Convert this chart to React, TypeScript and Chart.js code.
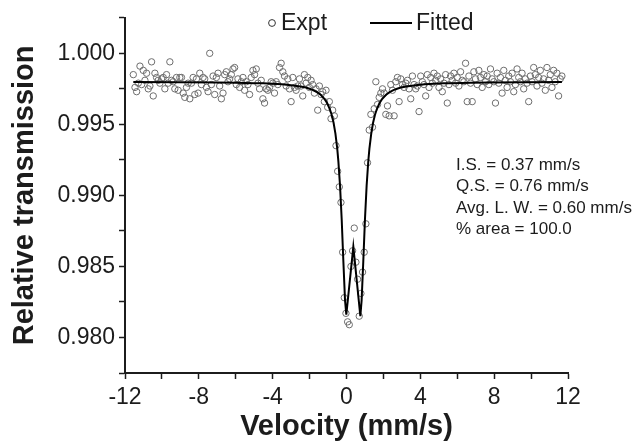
import React, { useEffect, useRef } from "react";
import { Chart, registerables } from "chart.js";

Chart.register(...registerables);

// Measured velocities (mm/s) of the spectrum channels
const VELOCITY: number[] = [
  -11.55, -11.46, -11.37, -11.28, -11.19, -11.1, -11.01, -10.92, -10.83, -10.74,
  -10.65, -10.56, -10.47, -10.38, -10.29, -10.2, -10.11, -10.02, -9.93, -9.84,
  -9.75, -9.66, -9.57, -9.48, -9.39, -9.3, -9.21, -9.12, -9.03, -8.94,
  -8.85, -8.76, -8.67, -8.58, -8.49, -8.4, -8.31, -8.22, -8.13, -8.04,
  -7.95, -7.86, -7.77, -7.68, -7.59, -7.5, -7.41, -7.32, -7.23, -7.14,
  -7.05, -6.96, -6.87, -6.78, -6.69, -6.6, -6.51, -6.42, -6.33, -6.24,
  -6.15, -6.06, -5.97, -5.88, -5.79, -5.7, -5.61, -5.52, -5.43, -5.34,
  -5.25, -5.16, -5.07, -4.98, -4.89, -4.8, -4.71, -4.62, -4.53, -4.44,
  -4.35, -4.26, -4.17, -4.08, -3.99, -3.9, -3.81, -3.72, -3.63, -3.54,
  -3.45, -3.36, -3.27, -3.18, -3.09, -3.0, -2.91, -2.82, -2.73, -2.64,
  -2.55, -2.46, -2.37, -2.28, -2.19, -2.1, -2.01, -1.92, -1.83, -1.74,
  -1.65, -1.56, -1.47, -1.38, -1.29, -1.2, -1.11, -1.02, -0.93, -0.84,
  -0.75, -0.66, -0.57, -0.48, -0.39, -0.3, -0.21, -0.12, -0.03, 0.06,
  0.15, 0.24, 0.33, 0.42, 0.51, 0.6, 0.69, 0.78, 0.87, 0.96,
  1.05, 1.14, 1.23, 1.32, 1.41, 1.5, 1.59, 1.68, 1.77, 1.86,
  1.95, 2.04, 2.13, 2.22, 2.31, 2.4, 2.49, 2.58, 2.67, 2.76,
  2.85, 2.94, 3.03, 3.12, 3.21, 3.3, 3.39, 3.48, 3.57, 3.66,
  3.75, 3.84, 3.93, 4.02, 4.11, 4.2, 4.29, 4.38, 4.47, 4.56,
  4.65, 4.74, 4.83, 4.92, 5.01, 5.1, 5.19, 5.28, 5.37, 5.46,
  5.55, 5.64, 5.73, 5.82, 5.91, 6.0, 6.09, 6.18, 6.27, 6.36,
  6.45, 6.54, 6.63, 6.72, 6.81, 6.9, 6.99, 7.08, 7.17, 7.26,
  7.35, 7.44, 7.53, 7.62, 7.71, 7.8, 7.89, 7.98, 8.07, 8.16,
  8.25, 8.34, 8.43, 8.52, 8.61, 8.7, 8.79, 8.88, 8.97, 9.06,
  9.15, 9.24, 9.33, 9.42, 9.51, 9.6, 9.69, 9.78, 9.87, 9.96,
  10.05, 10.14, 10.23, 10.32, 10.41, 10.5, 10.59, 10.68, 10.77, 10.86,
  10.95, 11.04, 11.13, 11.22, 11.31, 11.4, 11.49, 11.58, 11.67,
];

// Experimental relative transmission for each channel
const TRANSMISSION: number[] = [
  0.9985, 0.9976, 0.9973, 0.9979, 0.9991, 0.9978, 0.9988, 0.9981, 0.9986, 0.9975,
  0.9977, 0.9994, 0.997, 0.9986, 0.9983, 0.9981, 0.9979, 0.9982, 0.9983, 0.9975,
  0.9985, 0.9979, 0.9994, 0.9981, 0.998, 0.9975, 0.9983, 0.9974, 0.9983, 0.9983,
  0.9972, 0.9969, 0.9976, 0.9979, 0.9968, 0.9979, 0.9983, 0.9971, 0.9982, 0.9972,
  0.9986, 0.9978, 0.9983, 0.9982, 0.9976, 0.9973, 1.0, 0.9978, 0.9984, 0.9971,
  0.9983, 0.9986, 0.9977, 0.9968, 0.9972, 0.9985, 0.9987, 0.998, 0.9982, 0.9985,
  0.9989, 0.999, 0.9978, 0.9982, 0.9976, 0.998, 0.9983, 0.9974, 0.998, 0.9978,
  0.9971, 0.9983, 0.9988, 0.9985, 0.9989, 0.9979, 0.9975, 0.9981, 0.9968, 0.9965,
  0.9975, 0.9974, 0.9976, 0.998, 0.9979, 0.9972, 0.998, 0.9978, 0.999, 0.9993,
  0.9987, 0.9984, 0.9977, 0.9982, 0.9975, 0.9966, 0.9983, 0.9976, 0.9974, 0.9977,
  0.9982, 0.9977, 0.997, 0.9985, 0.9979, 0.9983, 0.9976, 0.9981, 0.9978, 0.9972,
  0.9975, 0.996, 0.9977, 0.9971, 0.9973, 0.9966, 0.9974, 0.9962, 0.9966, 0.9954,
  0.996, 0.9956, 0.9935, 0.9917, 0.9906, 0.9895, 0.986, 0.9828, 0.9817, 0.9811,
  0.9809, 0.985, 0.9861, 0.9877, 0.9853, 0.9841, 0.9815, 0.9831, 0.9846, 0.986,
  0.988, 0.9923, 0.9946, 0.9957, 0.9948, 0.9961, 0.998, 0.9964, 0.9969, 0.9972,
  0.9975, 0.9972, 0.9957, 0.9963, 0.9956, 0.9978, 0.9974, 0.9956, 0.998, 0.9983,
  0.9966, 0.9982, 0.9978, 0.9976, 0.9979, 0.9981, 0.9975, 0.9968, 0.9984, 0.9978,
  0.9975, 0.9977, 0.9959, 0.9984, 0.998, 0.9978, 0.997, 0.9985, 0.9976, 0.9983,
  0.9979, 0.9986, 0.9981, 0.9984, 0.9976, 0.9982, 0.9973, 0.9979, 0.9985, 0.9965,
  0.9978, 0.9984, 0.9981, 0.9986, 0.9979, 0.9983, 0.9977, 0.9987, 0.9981, 0.998,
  0.9993, 0.9966, 0.9984, 0.9979, 0.9966, 0.9987, 0.9982, 0.9978, 0.9988, 0.9983,
  0.9976, 0.9985, 0.998, 0.9984, 0.9978, 0.9989, 0.9982, 0.998, 0.9965, 0.9986,
  0.9979, 0.9983, 0.9972, 0.9988, 0.9981, 0.9976, 0.9984, 0.998, 0.9986, 0.9973,
  0.9978, 0.9989, 0.9983, 0.998, 0.9986, 0.9975, 0.9982, 0.9979, 0.9966, 0.9984,
  0.998, 0.999, 0.9985, 0.9977, 0.9983, 0.9988, 0.9979, 0.9982, 0.9974, 0.999,
  0.9981, 0.9985, 0.9976, 0.9988, 0.998, 0.9986, 0.997, 0.9982, 0.9984,
];

// Fitted curve
const FIT_VELOCITY: number[] = [
  -11.55, -9, -7, -6, -5, -4.5, -4, -3.5, -3, -2.5, -2.2, -2, -1.8, -1.6, -1.4,
  -1.2, -1.05, -0.9, -0.8, -0.7, -0.6, -0.5, -0.44, -0.35, -0.26, -0.17, -0.08,
  -0.01, 0.37, 0.75,
  0.82, 0.91, 1.0, 1.09, 1.18, 1.24, 1.34, 1.44, 1.54, 1.64, 1.79, 1.94, 2.14,
  2.34, 2.54, 2.74, 2.94, 3.24, 3.74, 4.24, 4.74, 5.24, 5.74, 6.74, 7.74, 9.74,
  11.67,
];
const FIT_TRANSMISSION: number[] = [
  0.99798, 0.99797, 0.99795, 0.99793, 0.9979, 0.99789, 0.99786, 0.99782, 0.99776,
  0.99767, 0.99759, 0.99751, 0.99741, 0.99727, 0.99708, 0.9968, 0.9965, 0.99606,
  0.99566, 0.99511, 0.99435, 0.99327, 0.9924, 0.99067, 0.9883, 0.98536, 0.98263,
  0.9816, 0.9864, 0.9815,
  0.98263, 0.98536, 0.9883, 0.99067, 0.9924, 0.99327, 0.99435, 0.99511, 0.99566,
  0.99606, 0.9965, 0.9968, 0.99708, 0.99727, 0.99741, 0.99751, 0.99759, 0.99767,
  0.99776, 0.99782, 0.99786, 0.99789, 0.9979, 0.99793, 0.99795, 0.99797, 0.99798,
];

const X_MIN = -12;
const X_MAX = 12;
const X_MINOR_STEP = 2;
const X_LABEL_STEP = 4;
const Y_MIN = 0.9775;
const Y_MAX = 1.0025;
const Y_MINOR_STEP = 0.0025;
const Y_LABEL_STEP = 0.005;

const SERIES_LABELS = ["Expt", "Fitted"];
const X_TITLE = "Velocity (mm/s)";
const Y_TITLE = "Relative transmission";
const PARAM_LINES = [
  "I.S. = 0.37 mm/s",
  "Q.S. = 0.76 mm/s",
  "Avg. L. W. = 0.60 mm/s",
  "% area = 100.0",
];

const FONT = "'Liberation Sans', Arial, Helvetica, sans-serif";
const INK = "#1c1c1c";
const POINT_COLOR = "#6e6e6e";

const overlayPlugin = {
  id: "overlayText",
  afterDraw(chart: any) {
    const ctx = chart.ctx as CanvasRenderingContext2D;
    ctx.save();
    // legend
    ctx.fillStyle = INK;
    ctx.font = `23px ${FONT}`;
    ctx.textBaseline = "middle";
    ctx.textAlign = "left";
    ctx.beginPath();
    ctx.arc(272, 23, 3.4, 0, Math.PI * 2);
    ctx.strokeStyle = "#333";
    ctx.lineWidth = 1;
    ctx.stroke();
    ctx.fillText(SERIES_LABELS[0], 281, 24);
    ctx.beginPath();
    ctx.moveTo(370, 23);
    ctx.lineTo(412, 23);
    ctx.strokeStyle = "#000";
    ctx.lineWidth = 2;
    ctx.stroke();
    ctx.fillText(SERIES_LABELS[1], 416, 24);
    // parameters
    ctx.font = `17px ${FONT}`;
    PARAM_LINES.forEach((t, i) => {
      ctx.fillText(t, 456, 165.5 + i * 21.3);
    });
    ctx.restore();
  },
};

export default function App() {
  const ref = useRef<HTMLCanvasElement | null>(null);

  useEffect(() => {
    if (!ref.current) return;
    const scatter = VELOCITY.map((v, i) => ({ x: v, y: TRANSMISSION[i] }));
    const fit = FIT_VELOCITY.map((v, i) => ({ x: v, y: FIT_TRANSMISSION[i] }));
    const chart = new Chart(ref.current, {
      type: "scatter",
      data: {
        datasets: [
          {
            label: SERIES_LABELS[1],
            data: fit,
            showLine: true,
            borderColor: "#000",
            borderWidth: 2,
            pointRadius: 0,
            tension: 0,
            order: 1,
          },
          {
            label: SERIES_LABELS[0],
            data: scatter,
            showLine: false,
            pointStyle: "circle",
            pointRadius: 3.2,
            pointBorderWidth: 1,
            borderColor: POINT_COLOR,
            backgroundColor: "rgba(255,255,255,0)",
            order: 2,
          },
        ],
      },
      options: {
        responsive: false,
        animation: false,
        devicePixelRatio: 1,
        layout: { padding: { top: 14, right: 68, left: 0, bottom: 0 } },
        plugins: {
          legend: { display: false },
          tooltip: { enabled: false },
        },
        scales: {
          x: {
            type: "linear",
            min: X_MIN,
            max: X_MAX,
            afterFit: (s: any) => {
              s.height = 68;
            },
            ticks: {
              stepSize: X_MINOR_STEP,
              autoSkip: false,
              maxRotation: 0,
              padding: 5,
              color: INK,
              font: { family: FONT, size: 23 },
              callback: (v: any) => {
                const n = Number(v);
                return Math.abs(n / X_LABEL_STEP - Math.round(n / X_LABEL_STEP)) < 1e-6
                  ? String(Math.round(n))
                  : "";
              },
            },
            grid: {
              drawOnChartArea: false,
              drawTicks: true,
              tickLength: 6,
              tickColor: INK,
              tickWidth: 1.5,
            },
            border: { display: true, color: INK, width: 2 },
            title: {
              display: true,
              text: X_TITLE,
              color: INK,
              font: { family: FONT, size: 29, weight: "bold", lineHeight: 1 },
              padding: { top: 0, bottom: 0 },
            },
          },
          y: {
            type: "linear",
            min: Y_MIN,
            max: Y_MAX,
            afterFit: (s: any) => {
              s.width = 125;
            },
            ticks: {
              stepSize: Y_MINOR_STEP,
              autoSkip: false,
              padding: 4,
              color: INK,
              font: { family: FONT, size: 23 },
              callback: (v: any) => {
                const n = Number(v);
                return Math.abs(n / Y_LABEL_STEP - Math.round(n / Y_LABEL_STEP)) < 1e-6
                  ? n.toFixed(3)
                  : "";
              },
            },
            grid: {
              drawOnChartArea: false,
              drawTicks: true,
              tickLength: 6,
              tickColor: INK,
              tickWidth: 1.5,
            },
            border: { display: true, color: INK, width: 2 },
            title: {
              display: true,
              text: Y_TITLE,
              color: INK,
              font: { family: FONT, size: 29, weight: "bold", lineHeight: 1 },
              padding: { top: 10, bottom: 0 },
            },
          },
        },
      },
      plugins: [overlayPlugin],
    } as any);
    return () => chart.destroy();
  }, []);

  return (
    <div style={{ position: "fixed", left: 0, top: 0, width: 636, height: 441, background: "#fff" }}>
      <canvas ref={ref} width={636} height={441} style={{ width: 636, height: 441, display: "block" }} />
    </div>
  );
}
